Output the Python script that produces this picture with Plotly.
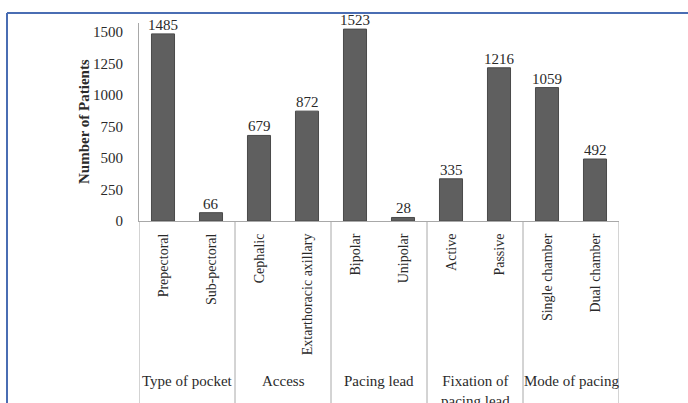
import plotly.graph_objects as go

categories = ["Prepectoral", "Sub-pectoral", "Cephalic", "Extarthoracic axillary",
              "Bipolar", "Unipolar", "Active", "Passive", "Single chamber", "Dual chamber"]
patients = [1485, 66, 679, 872, 1523, 28, 335, 1216, 1059, 492]
groups = ["Type of pocket", "Access", "Pacing lead", "Fixation of<br>pacing lead", "Mode of pacing"]
y_ticks = [0, 250, 500, 750, 1000, 1250, 1500]

W, H = 688, 403
L, R, T, B = 139, 69, 23, 182
pw = W - L - R
ph = H - T - B
ymax = 1500 * ph / 189.0

serif = "Liberation Serif, Times New Roman, serif"
txt = "#2a2a2a"

fig = go.Figure(go.Bar(
    x=categories, y=patients,
    cliponaxis=False,
    marker=dict(color="#5f5f5f", line=dict(color="#4a4a4a", width=1)),
))

shapes = []
for i in range(len(groups) + 1):
    xv = -0.5 + 2 * i
    shapes.append(dict(type="line", xref="x", yref="paper", x0=xv, x1=xv, y0=0, y1=-1.2,
                       line=dict(color="#a8a8a8", width=1)))
# blue frame
shapes.append(dict(type="line", xref="paper", yref="paper",
                   x0=(7 - L) / pw, x1=(W + 5 - L) / pw,
                   y0=(H - B - 13) / ph, y1=(H - B - 13) / ph,
                   line=dict(color="#4a6db3", width=2)))
shapes.append(dict(type="line", xref="paper", yref="paper",
                   x0=(7 - L) / pw, x1=(7 - L) / pw,
                   y0=(H - B - 13) / ph, y1=-1.3,
                   line=dict(color="#4a6db3", width=2)))

annotations = []
for c, v in zip(categories, patients):
    annotations.append(dict(x=c, y=v, xref="x", yref="y", text=str(v), showarrow=False,
                            yanchor="bottom", xanchor="center", yshift=-1,
                            font=dict(family=serif, size=15, color=txt)))
for i, g in enumerate(groups):
    annotations.append(dict(x=0.5 + 2 * i, xref="x", y=(221 - 371) / ph, yref="paper",
                            text=g, showarrow=False, yanchor="top", xanchor="center",
                            font=dict(family=serif, size=15, color=txt)))
annotations.append(dict(x=(84 - L) / pw, y=0.5, xref="paper", yref="paper",
                        text="<b>Number of Patients</b>", textangle=-90, showarrow=False,
                        xanchor="center", yanchor="middle",
                        font=dict(family=serif, size=15, color=txt)))

fig.update_layout(
    width=W, height=H,
    margin=dict(l=L, r=R, t=T, b=B),
    paper_bgcolor="white", plot_bgcolor="white",
    showlegend=False, bargap=0.52,
    shapes=shapes, annotations=annotations,
    xaxis=dict(showline=True, linecolor="#a8a8a8", linewidth=1, showgrid=False,
               tickangle=-90, ticks="outside", ticklen=6, tickcolor="rgba(0,0,0,0)",
               tickfont=dict(family=serif, size=14, color=txt),
               range=[-0.5, 9.5]),
    yaxis=dict(showline=True, linecolor="#a8a8a8", linewidth=1, showgrid=False,
               zeroline=False, range=[0, ymax], tickvals=y_ticks,
               ticks="outside", ticklen=12, tickcolor="rgba(0,0,0,0)",
               tickfont=dict(family=serif, size=15, color=txt)),
)

fig.write_html("out.html")
